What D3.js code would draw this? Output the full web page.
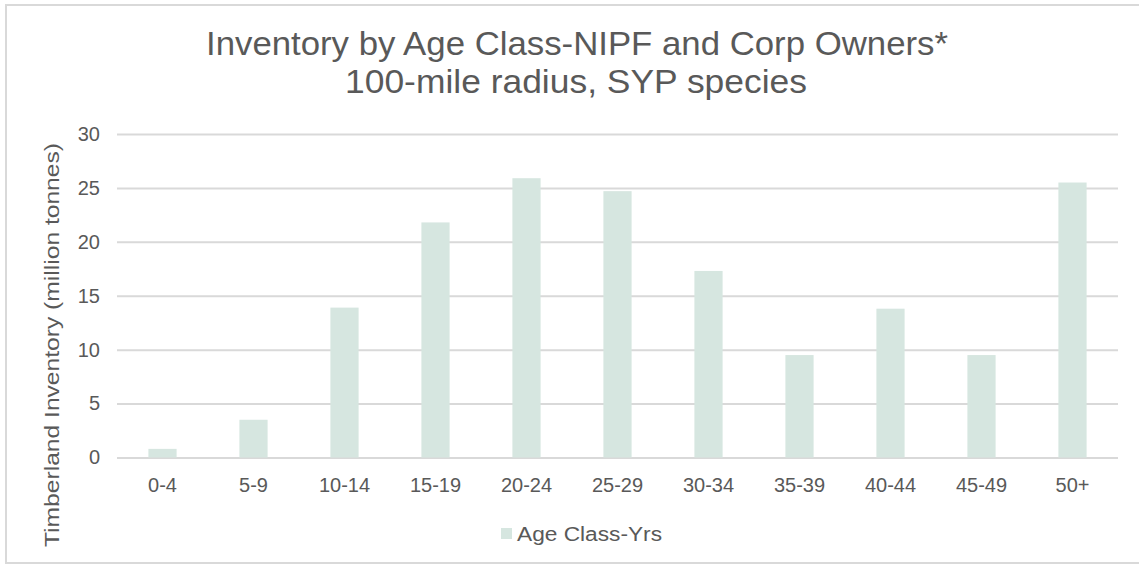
<!DOCTYPE html>
<html>
<head>
<meta charset="utf-8">
<script src="https://cdn.jsdelivr.net/npm/d3@7"></script>
<style>
  body { margin: 0; background: #fff; }
  text { font-family: "Liberation Sans", Arial, sans-serif; fill: #595959; }
</style>
</head>
<body>
<svg width="1139" height="568"></svg>
<script>
// chart data
var ageClasses = ["0-4", "5-9", "10-14", "15-19", "20-24", "25-29", "30-34", "35-39", "40-44", "45-49", "50+"];
var inventory = [0.8, 3.5, 13.9, 21.8, 25.9, 24.7, 17.3, 9.5, 13.8, 9.5, 25.5];
var yTicks = [0, 5, 10, 15, 20, 25, 30];
var titleLines = ["Inventory by Age Class-NIPF and Corp Owners*", "100-mile radius, SYP species"];
var seriesName = "Age Class-Yrs";
var yTitle = "Timberland Inventory  (million tonnes)";

var svg = d3.select("svg");
var barColor = "#d6e6e0";
var gridColor = "#d9d9d9";

// chart frame
svg.append("rect")
  .attr("x", 6).attr("y", 5)
  .attr("width", 1140).attr("height", 558)
  .attr("fill", "none")
  .attr("stroke", gridColor)
  .attr("stroke-width", 2);

// plot area bounds
var plotLeft = 117, plotRight = 1118, plotTop = 134, plotBottom = 457.5;

var x = d3.scaleBand().domain(ageClasses).range([plotLeft, plotRight]).paddingInner(0.69).paddingOuter(0.345);
var y = d3.scaleLinear().domain([0, 30]).range([plotBottom, plotTop]);

var data = ageClasses.map(function(c, i) { return {cls: c, val: inventory[i]}; });

// gridlines + y labels
var yAxis = svg.append("g")
  .attr("transform", "translate(" + plotLeft + ",0)")
  .call(d3.axisLeft(y).tickValues(yTicks).tickSize(-(plotRight - plotLeft)).tickPadding(17));
yAxis.select(".domain").remove();
yAxis.selectAll(".tick line").attr("stroke", gridColor).attr("stroke-width", 2);
yAxis.selectAll(".tick text")
  .style("font-size", "20px")
  .style("font-family", "Liberation Sans, Arial, sans-serif")
  .attr("fill", "#595959");

// bars
svg.append("g").selectAll(".bar")
  .data(data)
  .enter().append("rect")
  .attr("class", "bar")
  .attr("x", function(d) { return x(d.cls); })
  .attr("y", function(d) { return y(d.val); })
  .attr("width", x.bandwidth())
  .attr("height", function(d) { return plotBottom - y(d.val); })
  .attr("fill", barColor);

// x axis labels
var xAxis = svg.append("g")
  .attr("transform", "translate(0," + plotBottom + ")")
  .call(d3.axisBottom(x).tickSize(0).tickPadding(20));
xAxis.select(".domain").remove();
xAxis.selectAll(".tick text")
  .style("font-size", "20px")
  .style("font-family", "Liberation Sans, Arial, sans-serif")
  .attr("fill", "#595959");

// title
svg.append("text")
  .attr("x", 577).attr("y", 55)
  .attr("text-anchor", "middle")
  .attr("textLength", 742).attr("lengthAdjust", "spacingAndGlyphs")
  .style("font-size", "33px")
  .text(titleLines[0]);
svg.append("text")
  .attr("x", 576).attr("y", 93)
  .attr("text-anchor", "middle")
  .attr("textLength", 462).attr("lengthAdjust", "spacingAndGlyphs")
  .style("font-size", "33px")
  .text(titleLines[1]);

// y axis title
svg.append("text")
  .attr("transform", "translate(59,345) rotate(-90)")
  .attr("text-anchor", "middle")
  .attr("textLength", 404).attr("lengthAdjust", "spacingAndGlyphs")
  .style("font-size", "20px")
  .text(yTitle);

// legend
svg.append("rect")
  .attr("x", 501).attr("y", 528)
  .attr("width", 11).attr("height", 11)
  .attr("fill", barColor);
svg.append("text")
  .attr("x", 517).attr("y", 541)
  .attr("textLength", 145).attr("lengthAdjust", "spacingAndGlyphs")
  .style("font-size", "20px")
  .text(seriesName);
</script>
</body>
</html>
